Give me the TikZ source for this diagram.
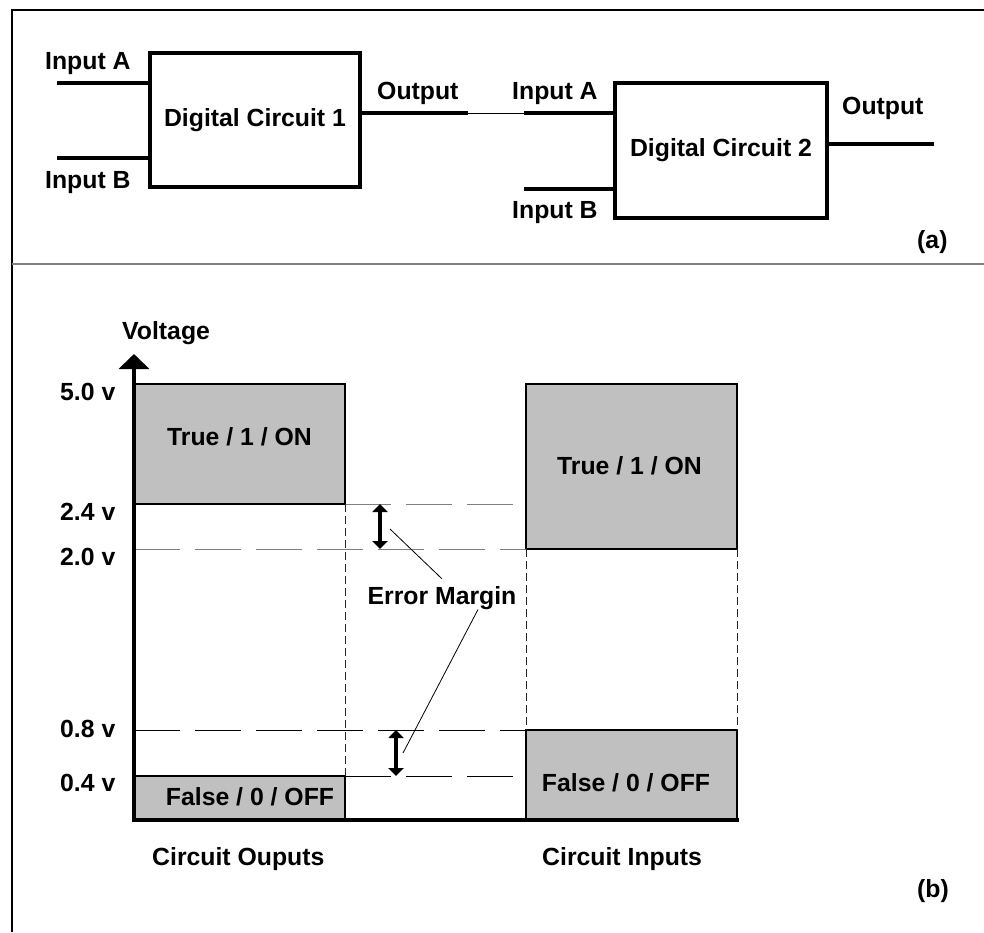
\documentclass[tikz,border=0pt]{standalone}
\usepackage{fontspec}
\setmainfont{Liberation Sans}
\usetikzlibrary{arrows.meta}
\definecolor{lvlgray}{HTML}{C0C0C0}

\begin{document}
\begin{tikzpicture}[x=1pt,y=-1pt,
    every node/.style={font=\bfseries\fontsize{24.8}{28}\selectfont,inner sep=0pt},
    circ/.style={draw,line width=4pt,minimum width=210pt,minimum height=134pt},
    wire/.style={line width=4pt},
    lvl/.style={draw,fill=lvlgray,line width=2pt,minimum width=211pt,outer sep=0pt},
    lbl/.style={anchor=base west},
    thres/.style={line width=1pt,dash pattern=on 46pt off 15pt},
    drop/.style={line width=1pt,black!85,dash pattern=on 8pt off 4pt},
    margin/.style={line width=4pt,{Triangle[width=15pt,length=8pt]}-{Triangle[width=15pt,length=8pt]}},
    leader/.style={line width=0.8pt}]

    \useasboundingbox (0,0) rectangle (984,932);

    % frame of both parts
    \draw[line width=2pt] (12,932) -- (12,10) -- (984,10);
    \draw[line width=1.5pt,gray] (12,264) -- (984,264);

    % (a) two circuits in a chain
    \node[circ] (dc1) at (255,120) {Digital Circuit 1};
    \node[circ,minimum width=212pt,minimum height=135pt] (dc2) at (721,150.5) {Digital Circuit 2};

    \coordinate (ina1) at (57,83);
    \coordinate (inb1) at (57,158);
    \coordinate (out1) at (468,113);
    \coordinate (ina2) at (524,113);
    \coordinate (inb2) at (524,189);
    \coordinate (out2) at (934,144);

    \draw[wire] (ina1) -- (ina1 -| dc1.west);
    \draw[wire] (inb1) -- (inb1 -| dc1.west);
    \draw[wire] (out1 -| dc1.east) -- (out1);
    \draw[line width=1pt] (out1) -- (ina2);
    \draw[wire] (ina2) -- (ina2 -| dc2.west);
    \draw[wire] (inb2) -- (inb2 -| dc2.west);
    \draw[wire] (out2 -| dc2.east) -- (out2);

    \node[lbl] (la1) at (45,69) {Input A};
    \node[lbl] (lb1) at (45,188) {Input B};
    \node[lbl] (lo1) at (377,99) {Output};
    \node[lbl] (la2) at (512,99) {Input A};
    \node[lbl] (lb2) at (512,218) {Input B};
    \node[lbl] (lo2) at (842,114) {Output};
    \node[lbl] (pa) at (917,248) {(a)};

    % (b) voltage levels
    \node[lvl,minimum height=120pt] (hiOut) at (239.5,444) {};
    \node[lvl,minimum height=44pt] (loOut) at (239.5,798) {};
    \node[lvl,minimum height=165pt] (hiIn) at (631.5,466.5) {};
    \node[lvl,minimum height=90pt] (loIn) at (631.5,775) {};

    \node[anchor=base] (tOut) at (239.5,445) {True / 1 / ON};
    \node[anchor=base] (fOut) at (250,805) {False / 0 / OFF};
    \node[anchor=base] (tIn) at (629.5,474) {True / 1 / ON};
    \node[anchor=base] (fIn) at (626,791) {False / 0 / OFF};

    \draw[thres,gray] (hiOut.south east) -- ++(170,0);
    \draw[thres,gray] (hiOut.south west |- hiIn.south) -- (hiIn.south west);
    \draw[thres] (loOut.north west |- loIn.north) -- (loIn.north west);
    \draw[thres] (loOut.north east) -- ++(170,0);

    \draw[drop] (hiOut.south east) -- (loOut.north east);
    \draw[drop] (hiIn.south west) -- (loIn.north west);
    \draw[drop] (hiIn.south east) -- (loIn.north east);

    \draw[line width=4pt,{Triangle[width=30pt,length=15pt]}-] (134,354) -- (134,820) -- (739,820);

    \draw[margin] (hiOut.south east) ++(35,0) -- ++(0,45);
    \draw[margin] (loOut.north east) ++(51,0) -- ++(0,-46);

    \node[anchor=base] (em) at (442,604) {Error Margin};
    \coordinate (m1) at (390,529);
    \coordinate (m2) at (403,753);
    \draw[leader] ([yshift=7pt]em.north) -- (m1);
    \draw[leader] ([xshift=36pt]em.south) -- (m2);

    \node[lbl] (vl) at (122,339) {Voltage};
    \node[lbl] (v50) at (60,400) {5.0 v};
    \node[lbl] (v24) at (60,520) {2.4 v};
    \node[lbl] (v20) at (60,565) {2.0 v};
    \node[lbl] (v08) at (60,737) {0.8 v};
    \node[lbl] (v04) at (60,791) {0.4 v};

    \node[lbl] (co) at (152,865) {Circuit Ouputs};
    \node[lbl] (ci) at (542,865) {Circuit Inputs};
    \node[lbl] (pb) at (917,897) {(b)};

\end{tikzpicture}
\end{document}
